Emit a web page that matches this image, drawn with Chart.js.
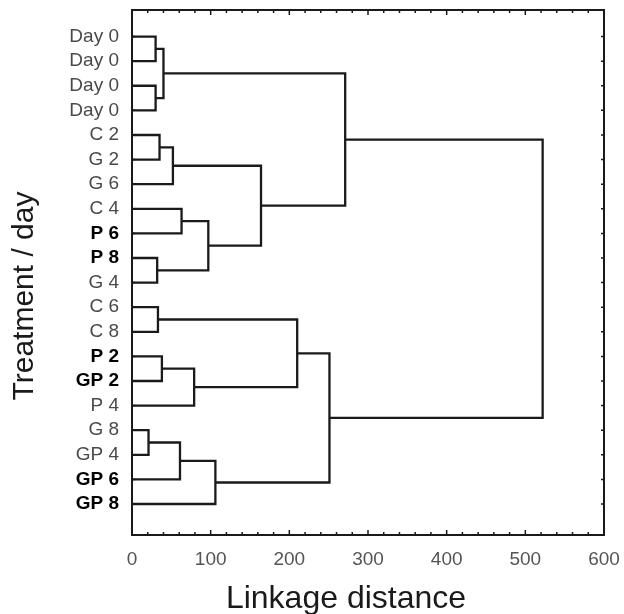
<!DOCTYPE html>
<html lang="en">
<head>
  <meta charset="UTF-8">
  <title>Dendrogram</title>
  <style>
    html, body { margin: 0; padding: 0; background: #fff; }
    #wrap { width: 624px; height: 614px; }
  </style>
</head>
<body>
  <div id="wrap"><canvas id="chart" width="624" height="614"></canvas></div>
  <script src="https://cdn.jsdelivr.net/npm/chart.js"></script>
  <script>
    // leaves, top to bottom
    const leafLabels = ["Day 0", "Day 0", "Day 0", "Day 0", "C 2", "G 2", "G 6", "C 4", "P 6", "P 8",
      "G 4", "C 6", "C 8", "P 2", "GP 2", "P 4", "G 8", "GP 4", "GP 6", "GP 8"];
    const boldLeaves = [8, 9, 13, 14, 18, 19];

    // merges: node ids 0..19 are leaves, merge k creates node 20 + k
    const mergeLeft = [0, 2, 20, 4, 23, 7, 9, 25, 24, 22, 11, 13, 31, 30, 16, 34, 35, 33, 29];
    const mergeRight = [1, 3, 21, 5, 6, 8, 10, 26, 27, 28, 12, 14, 15, 32, 17, 18, 19, 36, 37];
    const mergeHeight = [30, 30, 40, 35, 52, 63, 32, 97, 164, 271, 33, 38, 79, 210, 21, 61, 106, 251, 522];

    const xTicks = [0, 100, 200, 300, 400, 500, 600];
    const xTitle = "Linkage distance";
    const yTitle = "Treatment / day";

    const FONT = "'Liberation Sans', Arial, sans-serif";
    const INK = "#1a1a1a";

    const nodeY = leafLabels.map((_, i) => i);
    const nodeH = leafLabels.map(() => 0);
    const datasets = mergeHeight.map((h, k) => {
      const a = mergeLeft[k], b = mergeRight[k];
      nodeY.push((nodeY[a] + nodeY[b]) / 2);
      nodeH.push(h);
      return {
        data: [
          { x: nodeH[a], y: nodeY[a] },
          { x: h, y: nodeY[a] },
          { x: h, y: nodeY[b] },
          { x: nodeH[b], y: nodeY[b] },
        ],
        showLine: true,
        borderColor: INK,
        borderWidth: 2.3,
        pointRadius: 0,
        tension: 0,
        clip: false,
      };
    });

    // frame with inward ticks and the two axis titles, placed as in the original
    const framePlugin = {
      id: "frame",
      afterDraw(chart) {
        const { ctx, chartArea: a, scales: { x, y } } = chart;
        ctx.save();
        ctx.strokeStyle = INK;
        ctx.lineWidth = 2;
        ctx.strokeRect(a.left, a.top, a.right - a.left, a.bottom - a.top);
        ctx.lineWidth = 1.5;
        ctx.beginPath();
        for (let v = 0; v <= 600; v += 20) {
          const px = x.getPixelForValue(v);
          const len = v % 100 === 0 ? 5 : 3;
          ctx.moveTo(px, a.bottom); ctx.lineTo(px, a.bottom - len);
          ctx.moveTo(px, a.top); ctx.lineTo(px, a.top + len);
        }
        leafLabels.forEach((_, i) => {
          const py = y.getPixelForValue(i);
          ctx.moveTo(a.left, py); ctx.lineTo(a.left + 3, py);
          ctx.moveTo(a.right, py); ctx.lineTo(a.right - 3, py);
        });
        ctx.stroke();

        ctx.fillStyle = INK;
        ctx.font = `32px ${FONT}`;
        ctx.textAlign = "center";
        ctx.textBaseline = "alphabetic";
        ctx.fillText(xTitle, 346, 608);
        ctx.font = `30px ${FONT}`;
        ctx.translate(33, 296);
        ctx.rotate(-Math.PI / 2);
        ctx.fillText(yTitle, 0, 0);
        ctx.restore();
      },
    };

    const noPad = (s) => { s.paddingTop = 0; s.paddingBottom = 0; s.paddingLeft = 0; s.paddingRight = 0; };

    new Chart(document.getElementById("chart"), {
      type: "scatter",
      data: { datasets },
      options: {
        responsive: false,
        animation: false,
        events: [],
        layout: { padding: { top: 10, right: 20, bottom: 0, left: 0 } },
        plugins: { legend: { display: false }, tooltip: { enabled: false } },
        scales: {
          x: {
            type: "linear",
            min: 0,
            max: 600,
            afterBuildTicks: (s) => { s.ticks = xTicks.map((v) => ({ value: v })); },
            afterFit: (s) => { s.height = 79; noPad(s); },
            grid: { display: false, drawTicks: false },
            border: { display: false },
            ticks: { padding: 13, color: "#555", font: { family: FONT, size: 19 } },
          },
          y: {
            type: "linear",
            reverse: true,
            min: -1.08,
            max: 20.26,
            afterBuildTicks: (s) => { s.ticks = leafLabels.map((_, i) => ({ value: i })); },
            afterFit: (s) => { s.width = 132; noPad(s); },
            grid: { display: false, drawTicks: false },
            border: { display: false },
            ticks: {
              padding: 13,
              callback: (v) => leafLabels[v],
              color: (c) => (boldLeaves.includes(c.tick.value) ? "#000" : "#4a4a4a"),
              font: (c) => ({
                family: FONT,
                size: 19,
                weight: boldLeaves.includes(c.tick && c.tick.value) ? "bold" : "normal",
              }),
            },
          },
        },
      },
      plugins: [framePlugin],
    });
  </script>
</body>
</html>
